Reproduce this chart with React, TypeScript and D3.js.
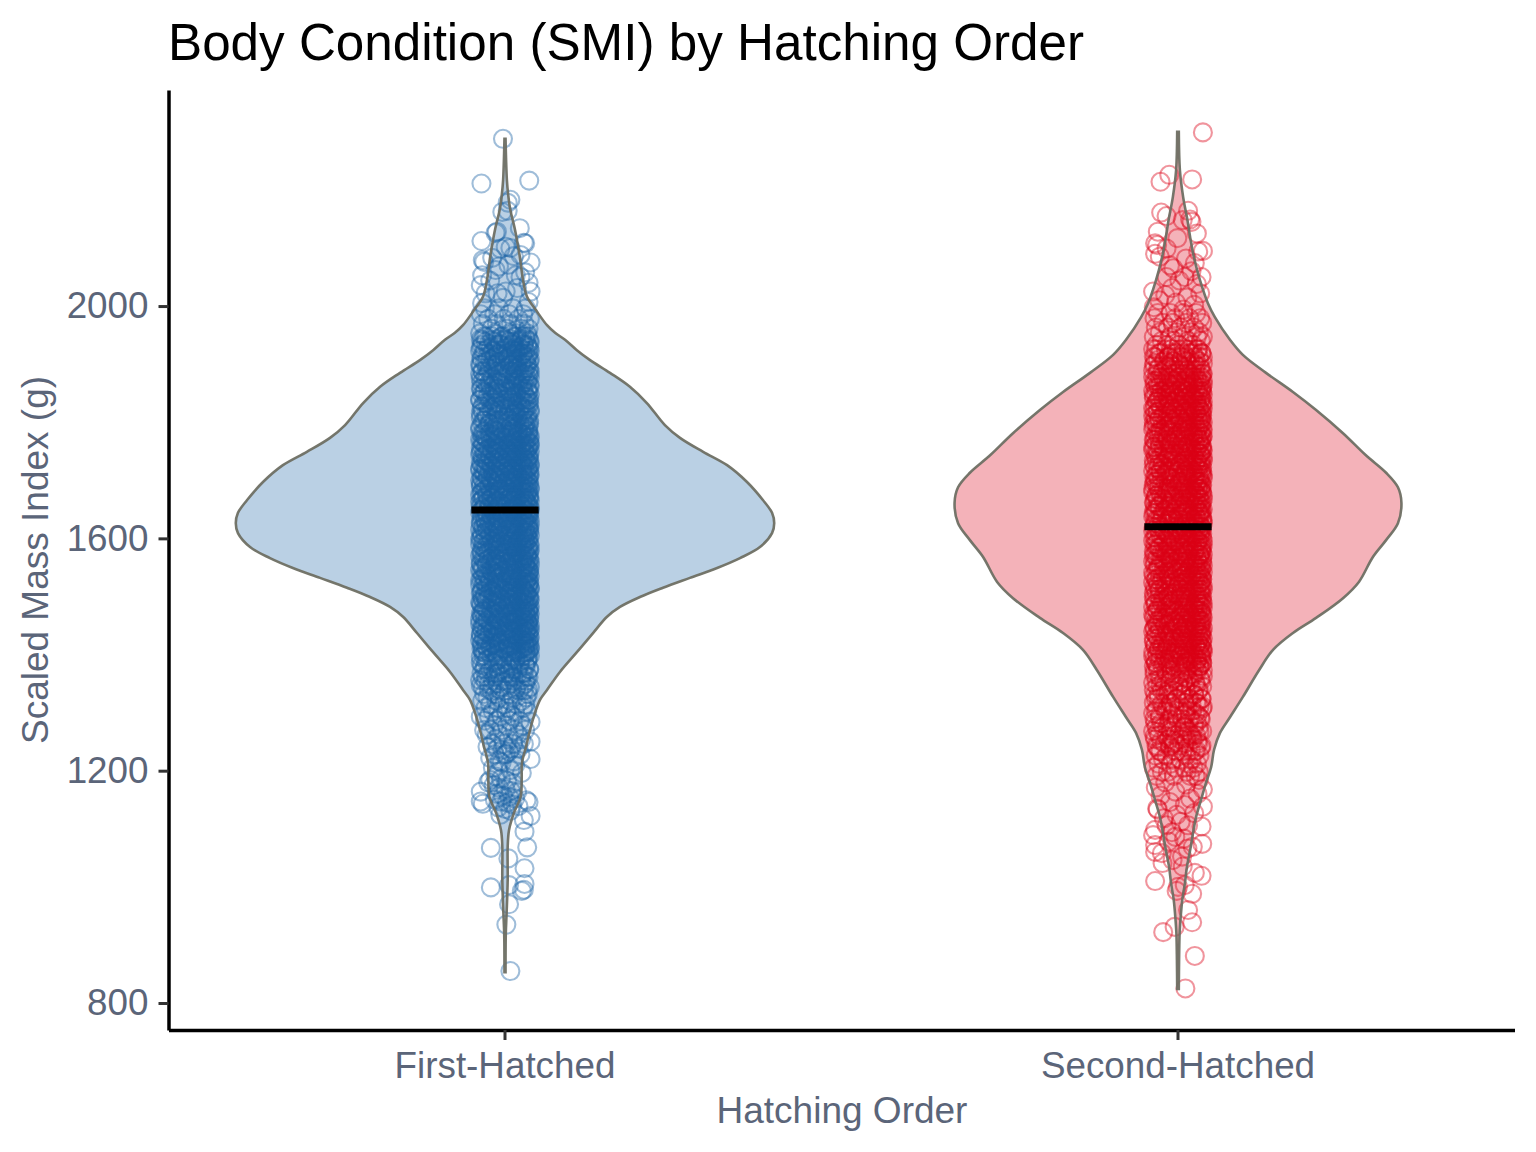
import React from 'react';
import { area, axisBottom, axisLeft, curveCatmullRom, format, scaleBand, scaleLinear, select } from 'd3';

const categories = ['First-Hatched', 'Second-Hatched'];
const yTicks = [800, 1200, 1600, 2000];
const means = [1649, 1620];
const colors = ['#1A62A5', '#DC0016'];

// violin outlines: SMI value and relative density
const firstViolinValues = [2288, 2217, 2191, 2165, 2134, 2088, 2045, 2016, 1993, 1967, 1954, 1942, 1924, 1907, 1885, 1861, 1833, 1795, 1773, 1749, 1726, 1697, 1666, 1644, 1626, 1609, 1585, 1566, 1549, 1532, 1515, 1499, 1482, 1465, 1437, 1404, 1370, 1339, 1322, 1299, 1270, 1241, 1213, 1184, 1155, 1127, 1098, 1069, 1012, 955, 920, 853];
const firstViolinDensity = [0.002, 0.007, 0.012, 0.02, 0.036, 0.054, 0.067, 0.082, 0.115, 0.156, 0.186, 0.223, 0.267, 0.316, 0.39, 0.464, 0.527, 0.594, 0.65, 0.736, 0.825, 0.899, 0.958, 0.992, 1, 0.992, 0.947, 0.873, 0.788, 0.687, 0.587, 0.501, 0.427, 0.379, 0.327, 0.267, 0.204, 0.156, 0.13, 0.111, 0.093, 0.078, 0.063, 0.062, 0.058, 0.033, 0.015, 0.01, 0.01, 0.006, 0.003, 0.002];
const secondViolinValues = [2300, 2234, 2188, 2148, 2119, 2091, 2062, 2028, 2005, 1981, 1942, 1916, 1885, 1852, 1821, 1781, 1743, 1713, 1688, 1661, 1626, 1597, 1568, 1525, 1497, 1463, 1437, 1408, 1373, 1327, 1292, 1265, 1236, 1206, 1179, 1149, 1120, 1093, 1063, 1034, 1007, 978, 948, 920, 874, 824];
const secondViolinDensity = [0.003, 0.007, 0.019, 0.035, 0.045, 0.056, 0.071, 0.093, 0.111, 0.137, 0.193, 0.241, 0.327, 0.427, 0.513, 0.613, 0.698, 0.773, 0.817, 0.83, 0.817, 0.773, 0.724, 0.672, 0.613, 0.513, 0.427, 0.353, 0.301, 0.241, 0.193, 0.156, 0.134, 0.123, 0.104, 0.085, 0.067, 0.056, 0.045, 0.033, 0.026, 0.016, 0.01, 0.006, 0.004, 0.003];

// single birds in the tails: [SMI, jitter in thousandths of the band]
const firstTailPoints = [
  [2288, -3], [2211, -35], [2216, 36], [2183, 8], [2178, 4], [2162, -4], [2164, 4], [2134, 22], [2128, -12], [2126, -14],
  [2112, -35], [2109, 28], [2108, 30], [2079, -33], [2076, -31], [2075, 38], [2088, 23], [2100, 8], [2099, -7], [2053, 16],
  [2068, -9], [2053, -34], [2036, -36], [2040, 35], [2025, 38], [2025, 1], [2022, -11], [2005, -34], [2007, 35], [2022, -29],
  [2050, 23], [2086, 13], [2083, -19], [2102, 1], [2062, -14], [2071, 5], [2044, -22], [2058, 30], [2031, 18], [2014, -3],
  [855, 8], [935, 2], [970, 6], [999, -21], [1003, 6], [1005, 29], [993, 25], [995, 28], [1032, 29], [1049, 5],
  [1067, -21], [1068, 33], [1095, 29], [1122, 38], [1124, -7], [1115, 28], [1147, -36], [1143, -33], [1164, -36], [1149, 32],
  [1146, 35], [1184, -22], [1180, -25], [1220, 38], [1250, 38], [1284, 38], [1293, -36], [1270, -31], [1241, -26], [1222, -22],
  [1196, 25], [1233, 6], [1236, -4], [1229, 2], [1190, -14], [1186, -6], [1183, 3], [1178, 12], [1175, -17], [1171, -9],
  [1168, 1], [1165, 9], [1163, 18], [1160, -12], [1157, -3], [1155, 6], [1152, 15], [1150, -15], [1147, -6], [1145, 3],
  [1142, 11], [1139, 20], [1137, -10], [1134, 0], [1131, 8], [1198, -10], [1201, 8], [1205, -18], [1209, 15], [1214, -5],
];
const firstDenseRows = [
  [1996, -30, -9, 12, 31], [1986, -36, -16, 6, 27], [1978, -25, -2, 20, 37], [1969, -33, -12, 9, 29], [1961, -20, 3, 24, 35],
  [1953, -37, -15, 7, 18, 33], [1947, -28, -6, 14, 30], [1941, -34, -19, 2, 23, 36], [1935, -24, -8, 11, 28], [1929, -36, -13, 5, 21, 34],
  [1923, -30, -3, 16, 37], [1917, -21, -10, 9, 26], [1911, -35, -17, 4, 19, 32], [1905, -27, -5, 13, 36], [1899, -37, -14, 7, 24],
  [1893, -23, -1, 18, 31], [1887, -33, -11, 10, 28, 37], [1881, -26, -7, 15, 35], [1875, -36, -18, 3, 22], [1869, -29, -9, 12, 33],
  [1863, -22, -2, 20, 37], [1857, -35, -15, 6, 27], [1851, -31, -12, 8, 17, 34], [1845, -25, -4, 14, 30], [1839, -37, -19, 1, 23, 36],
  [1833, -28, -8, 11, 32], [1827, -34, -16, 5, 25], [1821, -20, -6, 16, 37, 29], [1815, -36, -13, 9, 21], [1809, -27, -1, 18, 33],
  [1803, -32, -10, 4, 26, 36], [1797, -23, -17, 13, 30], [1791, -37, -5, 7, 28], [1785, -29, -14, 19, 35],
  [1780, -35, -23, -11, 0, 13, 25, 35], [1775, -30, -18, -4, 8, 19, 30, 37], [1770, -37, -26, -14, -1, 11, 22, 33], [1765, -33, -21, -7, 5, 16, 28, 36],
  [1760, -28, -16, -3, 9, 24, 31, 37], [1755, -36, -24, -12, 2, 14, 26, 34], [1750, -31, -19, -8, 6, 18, 29, 37], [1745, -37, -27, -15, -2, 10, 21, 32],
  [1740, -34, -22, -9, 3, 15, 27, 35], [1735, -29, -17, -5, 7, 20, 30, 36], [1730, -36, -25, -13, 0, 12, 23, 33], [1725, -32, -20, -6, 4, 17, 28, 37],
  [1720, -37, -28, -16, -3, 9, 25, 34], [1715, -33, -23, -10, 1, 13, 26, 36], [1710, -30, -18, -7, 6, 19, 31, 37], [1705, -35, -26, -14, -1, 11, 22, 35],
  [1700, -37, -21, -11, 3, 16, 27, 33], [1695, -31, -19, -4, 8, 14, 29, 36], [1690, -36, -24, -12, 0, 18, 24, 34], [1685, -28, -15, -8, 5, 20, 30, 37],
  [1680, -34, -22, -9, 2, 12, 26, 35], [1675, -37, -27, -17, -2, 10, 23, 32], [1670, -32, -20, -5, 7, 15, 28, 36], [1665, -35, -25, -13, 1, 17, 31, 37],
  [1660, -30, -16, -6, 4, 21, 27, 34], [1655, -36, -23, -10, -1, 13, 25, 33], [1650, -33, -19, -7, 9, 18, 29, 37], [1645, -37, -28, -14, 0, 11, 22, 35],
  [1640, -31, -21, -3, 6, 16, 30, 36], [1635, -35, -26, -12, 3, 19, 26, 32], [1630, -29, -18, -8, 5, 14, 28, 37], [1625, -36, -24, -15, -2, 10, 23, 34],
  [1620, -33, -20, -5, 7, 20, 31, 35], [1615, -37, -27, -11, 2, 12, 25, 36], [1610, -30, -17, -9, 8, 17, 29, 33], [1605, -34, -22, -6, 0, 15, 27, 37],
  [1600, -36, -25, -13, 4, 21, 30, 35], [1595, -31, -19, -4, 6, 11, 24, 32], [1590, -37, -23, -10, 1, 18, 28, 36], [1585, -33, -16, -7, 9, 13, 26, 34],
  [1580, -28, -21, -12, 3, 19, 31, 37], [1575, -35, -26, -2, 5, 16, 22, 35], [1570, -37, -18, -8, 10, 14, 29, 33], [1565, -32, -24, -14, -1, 20, 27, 36],
  [1560, -30, -20, -5, 7, 12, 25, 37], [1555, -36, -27, -11, 2, 17, 30, 34], [1550, -34, -15, -9, 6, 23, 28, 32], [1545, -37, -22, -3, 8, 15, 26, 36],
  [1540, -29, -19, -13, 0, 18, 31, 35], [1535, -33, -25, -6, 4, 11, 24, 37], [1530, -35, -17, -10, 9, 21, 29, 33], [1525, -31, -23, -4, 3, 14, 27, 36],
  [1520, -37, -26, -12, 1, 19, 30, 34], [1515, -28, -16, -7, 5, 16, 25, 37], [1510, -34, -21, -2, 10, 13, 28, 35], [1505, -36, -24, -15, 6, 22, 31, 32],
  [1500, -30, -18, -8, 2, 17, 26, 36], [1495, -33, -27, -5, 7, 12, 29, 37], [1490, -37, -20, -11, 4, 20, 24, 34], [1485, -35, -14, -3, 8, 15, 30, 33],
  [1480, -29, -22, -9, 0, 18, 27, 36], [1475, -32, -25, -6, 11, 23, 31, 35], [1470, -36, -17, -13, 3, 14, 28, 37], [1465, -34, -19, -1, 5, 21, 25, 32],
  [1460, -37, -26, -10, 9, 16, 29, 36], [1455, -30, -23, -4, 6, 13, 26, 34], [1450, -33, -15, -8, 2, 19, 30, 37], [1445, -35, -21, -12, 7, 22, 27, 33],
  [1440, -28, -18, -2, 10, 17, 31, 36], [1435, -36, -24, -7, 1, 12, 24, 35], [1430, -31, -16, -11, 4, 20, 28, 37], [1425, -37, -27, -5, 8, 15, 25, 32],
  [1420, -34, -20, -9, 3, 18, 29, 36], [1415, -29, -22, -14, 6, 11, 30, 34], [1410, -35, -19, -3, 0, 23, 26, 37], [1405, -33, -25, -8, 9, 16, 31, 35],
  [1398, -32, -12, 7, 29, 37], [1392, -26, -4, 16, 34], [1386, -36, -17, 1, 22], [1380, -30, -9, 11, 31], [1374, -22, -2, 19, 36],
  [1368, -35, -14, 6, 26], [1362, -28, -7, 13, 33], [1356, -37, -18, 3, 24], [1350, -24, -11, 9, 30], [1344, -33, -5, 17, 37],
  [1338, -20, 0, 21, 28], [1332, -31, -15, 5, 34], [1326, -26, -8, 12, 32], [1320, -34, -13, 8, 25], [1314, -22, -1, 18, 30],
  [1308, -29, -10, 4, 27], [1302, -18, 2, 15, 33], [1294, -24, -6, 11], [1286, -30, -12, 7, 22], [1278, -16, 3, 26], [1270, -22, -4, 14, 30],
  [1262, -27, -9, 19], [1254, -14, 5, 24], [1246, -19, -2, 12, 28], [1238, -11, 9, 20], [1228, -15, 0, 23], [1216, -8, 13],
];
// more birds through the solid part of the column, too many to tell apart
const firstCoreRows = [
  [1948, -31, -20, -4, 17, 26, 34], [1943, -36, -11, -1, 8, 25, 31], [1938, -29, -17, 6, 13, 22, 37], [1933, -34, -14, -7, 10, 28, 33], [1928, -25, -21, 1, 15, 24, 36],
  [1923, -37, -18, -6, 12, 20, 30], [1918, -32, -9, 3, 16, 27, 35], [1913, -26, -15, -2, 7, 23, 34], [1908, -35, -22, 0, 11, 29, 37], [1903, -30, -12, 5, 19, 25, 32],
  [1898, -36, -19, -8, 9, 17, 33], [1893, -27, -16, 2, 14, 28, 36], [1888, -34, -24, -3, 6, 21, 35], [1883, -37, -10, 4, 18, 26, 31], [1878, -29, -20, -5, 13, 24, 37],
  [1873, -32, -13, 8, 16, 30, 34], [1868, -35, -23, -7, 1, 19, 27], [1863, -26, -17, 10, 15, 25, 36], [1858, -36, -11, -1, 12, 22, 33], [1853, -30, -21, 3, 7, 28, 35],
  [1848, -34, -18, -9, 17, 24, 37], [1843, -27, -14, 5, 11, 20, 32], [1838, -37, -22, -4, 9, 26, 34], [1833, -31, -15, 2, 18, 29, 36], [1828, -25, -19, -6, 13, 23, 35],
  [1823, -35, -12, 0, 8, 21, 31], [1818, -33, -24, 6, 16, 27, 37], [1813, -28, -10, -2, 14, 25, 34], [1808, -36, -20, 4, 11, 19, 30], [1803, -30, -16, -7, 7, 28, 33],
  [1798, -34, -23, 1, 15, 22, 36], [1793, -26, -13, 9, 18, 31, 35], [1788, -37, -17, -5, 12, 24, 29], [1783, -32, -21, 3, 10, 20, 34],
  [1778, -33, -15, -8, 6, 27, 32], [1773, -28, -22, 2, 16, 24, 36], [1768, -35, -12, -3, 14, 20, 31], [1763, -31, -18, 7, 11, 26, 37], [1758, -34, -9, 0, 18, 29, 35],
  [1753, -26, -20, -6, 4, 23, 33], [1748, -36, -14, 10, 15, 25, 30], [1743, -30, -23, -1, 8, 19, 36], [1738, -33, -11, 5, 13, 28, 34], [1733, -27, -17, -7, 17, 24, 32],
  [1728, -35, -21, 2, 9, 26, 37], [1723, -29, -13, -4, 12, 21, 35], [1718, -37, -19, 6, 16, 30, 33], [1713, -31, -8, 0, 11, 23, 27], [1708, -26, -16, 3, 18, 28, 36],
  [1703, -34, -22, -9, 7, 14, 31], [1698, -28, -12, 5, 20, 25, 35], [1693, -36, -17, -2, 10, 22, 32], [1688, -32, -23, 1, 13, 27, 37], [1683, -30, -10, -6, 16, 24, 34],
  [1678, -35, -19, 4, 8, 29, 33], [1673, -26, -14, -3, 17, 21, 36], [1668, -33, -21, 6, 12, 30, 35], [1663, -37, -11, -7, 9, 26, 31], [1658, -29, -18, 2, 15, 23, 34],
  [1653, -31, -24, -1, 11, 19, 37], [1648, -35, -13, 7, 14, 28, 32], [1643, -27, -16, -5, 5, 25, 36], [1638, -34, -20, 3, 18, 22, 33], [1633, -30, -9, 0, 10, 29, 35],
  [1628, -36, -22, -4, 16, 24, 31], [1623, -28, -12, 8, 13, 27, 37], [1618, -32, -17, -8, 4, 21, 34], [1613, -26, -23, 1, 15, 30, 36], [1608, -35, -10, 6, 19, 26, 32],
  [1603, -29, -15, -3, 9, 23, 33], [1598, -37, -21, 2, 12, 28, 35], [1593, -33, -14, -6, 17, 20, 30], [1588, -27, -18, 5, 7, 25, 37], [1583, -31, -11, -1, 14, 22, 34],
  [1578, -35, -24, 3, 16, 29, 36], [1573, -30, -8, 10, 18, 26, 32], [1568, -34, -19, -5, 6, 24, 33], [1563, -26, -13, 0, 11, 27, 35], [1558, -36, -22, 4, 15, 21, 31],
  [1553, -28, -16, -7, 8, 30, 37], [1548, -32, -10, 2, 13, 25, 34], [1543, -35, -20, -2, 19, 23, 36], [1538, -27, -17, 7, 12, 28, 33], [1533, -31, -12, -4, 16, 26, 35],
  [1528, -37, -23, 1, 9, 20, 32], [1523, -29, -14, 5, 18, 31, 36], [1518, -33, -21, -8, 10, 24, 34], [1513, -26, -9, 3, 14, 27, 37], [1508, -35, -18, -1, 6, 22, 30],
  [1503, -30, -11, 8, 17, 29, 33], [1498, -34, -24, -6, 12, 25, 35], [1493, -28, -15, 0, 19, 21, 36], [1488, -36, -19, 4, 11, 28, 31], [1483, -32, -13, -3, 7, 23, 37],
  [1478, -27, -20, 2, 16, 26, 34], [1473, -33, -8, 9, 13, 30, 35], [1468, -35, -22, -5, 5, 24, 32], [1463, -30, -16, 1, 18, 27, 36], [1458, -26, -12, -7, 10, 20, 33],
  [1453, -37, -21, 6, 14, 29, 34], [1448, -31, -10, -2, 17, 25, 35], [1443, -34, -18, 3, 8, 22, 37], [1438, -28, -23, 0, 12, 31, 33], [1433, -36, -14, -4, 15, 26, 30],
  [1428, -32, -19, 7, 11, 23, 36], [1423, -29, -9, -6, 19, 28, 34], [1418, -35, -16, 2, 13, 24, 32], [1413, -27, -22, 5, 9, 30, 37], [1408, -33, -11, -1, 16, 21, 35],
  [1403, -30, -17, 4, 18, 27, 31], [1396, -36, -20, -3, 10, 25, 34], [1389, -28, -13, 8, 15, 33], [1382, -34, -7, 2, 22, 30], [1375, -31, -18, 6, 12, 36],
  [1368, -25, -10, 0, 19, 28], [1361, -33, -15, 9, 24, 35], [1354, -29, -4, 13, 31], [1347, -36, -19, 5, 27], [1340, -24, -8, 16, 34],
];

const secondTailPoints = [
  [2299, 37], [2226, -13], [2214, -26], [2218, 21], [2164, 15], [2161, -25], [2155, -17], [2148, 7], [2149, 18], [2145, 20],
  [2128, -30], [2125, 28], [2108, -34], [2095, 37], [2094, 30], [2090, -34], [2099, -17], [2117, -1], [2065, -7], [2050, 35],
  [2050, 10], [2074, 25], [2025, -37], [2022, 33], [2050, -17], [2019, -19], [2105, -31], [2085, -27], [2082, 12], [2070, -12],
  [2060, 20], [2044, 2], [2038, 28], [2031, -9], [2015, 14], [2010, -28], [2006, -3], [2002, 24], [1998, -36], [1994, 8],
  [825, 11], [881, 25], [922, -22], [931, -5], [939, 21], [960, 15], [993, -2], [988, 21], [1010, -34], [1019, 35],
  [1024, 25], [1003, 10], [1000, 0], [1035, 7], [1041, -23], [1060, -34], [1058, -24], [1072, -34], [1069, 22], [1074, 36],
  [1089, -37], [1098, -34], [1104, 35], [1086, -4], [1106, -17], [1135, -31], [1133, -30], [1138, 37], [1168, 37], [1124, -2],
  [1106, 15], [1052, 6], [1046, -8], [1066, 14], [1078, -14], [1083, 9], [1094, -9], [1112, 4], [1118, -21], [1127, 24],
  [1141, 10], [1146, -12], [1152, 18], [1157, -26], [1160, 29], [1164, -4], [1171, -33], [1176, 12], [1180, -19], [1184, 31],
];
const secondDenseRows = [
  [1988, -30, -11, 8, 27], [1979, -35, -4, 17, 33], [1971, -22, -8, 12, 36], [1963, -33, -15, 4, 24], [1955, -27, -2, 19, 31],
  [1947, -36, -12, 9, 28, 37], [1940, -24, -6, 15, 34], [1933, -32, -17, 1, 22], [1926, -37, -10, 11, 30], [1919, -28, -3, 18, 35],
  [1912, -34, -14, 6, 25, 37], [1905, -21, -7, 13, 32], [1898, -36, -18, 3, 27], [1891, -30, -9, 10, 21, 34], [1884, -25, -1, 16, 37],
  [1878, -37, -23, -12, 0, 12, 24, 35], [1872, -32, -18, -6, 7, 19, 29, 37], [1866, -35, -26, -14, -2, 10, 22, 33], [1860, -29, -20, -8, 4, 16, 31, 36],
  [1854, -37, -24, -11, 1, 13, 26, 34], [1848, -33, -17, -5, 8, 20, 30, 37], [1842, -36, -27, -15, -3, 9, 23, 35], [1836, -31, -21, -9, 5, 17, 28, 33],
  [1830, -34, -19, -13, 2, 14, 25, 36], [1824, -37, -25, -7, 6, 21, 31, 37], [1818, -30, -16, -4, 11, 18, 27, 34], [1812, -35, -22, -10, 0, 15, 29, 36],
  [1806, -33, -28, -12, 3, 12, 24, 35], [1800, -36, -18, -6, 9, 20, 32, 37], [1794, -31, -23, -14, -1, 16, 26, 33], [1788, -37, -20, -8, 7, 13, 30, 36],
  [1782, -29, -26, -11, 4, 19, 22, 34], [1776, -34, -17, -3, 10, 23, 28, 37], [1770, -36, -24, -15, 1, 14, 31, 35], [1764, -32, -19, -9, 6, 18, 25, 33],
  [1758, -35, -27, -5, 8, 11, 29, 36], [1752, -37, -21, -12, 2, 21, 26, 37], [1746, -30, -16, -7, 5, 15, 32, 34], [1740, -33, -25, -13, -2, 17, 24, 35],
  [1734, -36, -18, -10, 9, 12, 28, 37], [1728, -28, -23, -4, 3, 20, 30, 33], [1722, -34, -20, -8, 7, 16, 27, 36], [1716, -37, -26, -14, 0, 13, 22, 34],
  [1710, -31, -17, -6, 10, 19, 31, 35], [1704, -35, -24, -11, 4, 14, 25, 37], [1698, -33, -19, -3, 6, 23, 29, 32], [1692, -36, -28, -9, 1, 11, 26, 36],
  [1686, -29, -21, -15, 8, 17, 30, 34], [1680, -37, -16, -7, 2, 20, 24, 35], [1674, -32, -25, -12, 5, 15, 28, 37], [1668, -34, -22, -5, 9, 18, 31, 33],
  [1662, -36, -18, -10, 3, 12, 27, 36], [1656, -30, -27, -13, -1, 21, 25, 34], [1650, -35, -20, -4, 7, 16, 29, 37], [1644, -33, -23, -8, 10, 14, 32, 35],
  [1638, -37, -17, -11, 0, 19, 26, 33], [1632, -31, -24, -6, 4, 22, 30, 36], [1626, -34, -19, -14, 8, 13, 24, 37], [1620, -36, -26, -2, 6, 17, 28, 34],
  [1614, -28, -21, -9, 1, 11, 31, 35], [1608, -32, -16, -7, 5, 20, 27, 36], [1602, -35, -25, -12, 9, 15, 23, 33], [1596, -37, -18, -3, 2, 18, 29, 37],
  [1590, -33, -22, -10, 7, 12, 26, 34], [1584, -30, -27, -15, 3, 21, 30, 36], [1578, -36, -20, -5, 10, 16, 25, 35], [1572, -34, -17, -8, 0, 14, 32, 37],
  [1566, -31, -24, -13, 6, 19, 28, 33], [1560, -37, -19, -4, 4, 11, 24, 36], [1554, -35, -26, -11, 8, 22, 27, 34], [1548, -29, -21, -7, 1, 17, 31, 35],
  [1542, -33, -16, -2, 5, 13, 29, 37], [1536, -36, -23, -14, 9, 20, 26, 33], [1530, -32, -18, -9, 3, 15, 30, 36], [1524, -37, -25, -6, 7, 12, 23, 34],
  [1518, -30, -20, -12, 0, 18, 28, 35], [1512, -34, -27, -3, 10, 21, 32, 37], [1506, -36, -17, -8, 4, 16, 25, 33], [1500, -28, -22, -15, 6, 14, 29, 36],
  [1494, -35, -19, -5, 2, 11, 27, 34], [1488, -33, -24, -10, 8, 19, 31, 37], [1482, -37, -16, -7, 5, 23, 26, 35], [1476, -31, -26, -13, 1, 13, 30, 33],
  [1470, -34, -21, -4, 9, 17, 24, 36], [1464, -36, -18, -11, 3, 20, 28, 37], [1458, -29, -23, -6, 7, 15, 32, 34], [1452, -32, -20, -14, 0, 12, 25, 35],
  [1446, -35, -27, -2, 10, 18, 29, 33], [1440, -37, -17, -9, 4, 22, 27, 36], [1434, -33, -25, -12, 6, 16, 31, 34], [1428, -30, -19, -5, 2, 11, 23, 37],
  [1422, -36, -22, -8, 8, 14, 30, 35], [1416, -34, -16, -15, 5, 21, 26, 33], [1410, -28, -24, -3, 9, 19, 28, 36], [1404, -37, -20, -10, 1, 13, 32, 37],
  [1398, -31, -26, -7, 3, 17, 24, 34], [1392, -35, -18, -13, 7, 20, 29, 35], [1386, -33, -21, -4, 10, 12, 27, 36], [1380, -36, -23, -11, 0, 15, 31, 33],
  [1373, -30, -9, 11, 28, 37], [1366, -35, -17, 3, 22], [1359, -26, -5, 14, 33], [1352, -37, -12, 8, 26], [1345, -31, -20, 1, 19, 36],
  [1338, -24, -7, 12, 30], [1331, -34, -15, 5, 24], [1324, -29, -2, 17, 35], [1317, -36, -11, 9, 27], [1310, -22, -6, 14, 32, 37],
  [1303, -33, -18, 2, 21], [1296, -27, -9, 11, 29], [1289, -35, -13, 6, 34], [1282, -25, -3, 16, 24], [1275, -32, -16, 8, 31],
  [1268, -37, -10, 13, 36], [1261, -28, -5, 19, 27], [1254, -34, -14, 3, 22], [1247, -20, -7, 10, 30], [1240, -31, -12, 15, 34],
  [1233, -26, -2, 7, 25], [1226, -33, -17, 12, 32], [1219, -22, -8, 4, 20], [1212, -29, -11, 16, 28], [1205, -36, -4, 9, 23],
  [1198, -24, -15, 13, 31], [1191, -32, -6, 18, 26],
];
const secondCoreRows = [
  [1925, -33, -18, 2, 16, 29], [1919, -26, -9, 8, 22, 35], [1913, -36, -14, -3, 12, 31], [1907, -30, -20, 5, 18, 27], [1901, -35, -11, 1, 24, 37],
  [1895, -28, -16, -6, 10, 33], [1889, -37, -22, 4, 14, 26], [1883, -31, -8, 7, 20, 36], [1877, -27, -15, -1, 17, 28, 34], [1871, -35, -21, 3, 11, 25, 32],
  [1865, -30, -10, -4, 15, 23, 37], [1859, -33, -17, 6, 13, 27, 35], [1853, -26, -19, -7, 9, 30, 36], [1847, -36, -12, 2, 18, 24, 33], [1841, -29, -23, 0, 12, 21, 34],
  [1835, -32, -13, -5, 7, 27, 37], [1829, -27, -16, 4, 19, 29, 35], [1823, -35, -9, -2, 10, 24, 32], [1817, -31, -20, 8, 14, 26, 36], [1811, -37, -15, 1, 17, 22, 33],
  [1805, -28, -24, -6, 5, 30, 34], [1799, -33, -11, 3, 13, 25, 35], [1793, -36, -18, -8, 9, 21, 31], [1787, -26, -14, 6, 16, 28, 37], [1781, -32, -21, -1, 11, 27, 33],
  [1775, -29, -7, 2, 18, 23, 36], [1769, -35, -16, -3, 8, 31, 34], [1763, -27, -12, 5, 15, 26, 32], [1757, -37, -22, 0, 13, 20, 35], [1751, -31, -10, 7, 17, 28, 36],
  [1745, -34, -19, -5, 3, 24, 33], [1739, -28, -15, 9, 12, 30, 37], [1733, -32, -8, -2, 21, 27, 34], [1727, -36, -23, 4, 14, 25, 35], [1721, -30, -13, 1, 19, 29, 31],
  [1715, -26, -17, -7, 10, 22, 36], [1709, -33, -20, 6, 11, 26, 37], [1703, -29, -9, -4, 16, 24, 32], [1697, -35, -14, 2, 8, 28, 34], [1691, -31, -24, 5, 18, 21, 35],
  [1685, -37, -11, -1, 13, 30, 33], [1679, -27, -18, 7, 15, 25, 36], [1673, -33, -6, 3, 20, 27, 31], [1667, -30, -21, -8, 10, 23, 37], [1661, -35, -12, 0, 17, 29, 34],
  [1655, -28, -16, 4, 9, 26, 32], [1649, -32, -19, -3, 14, 22, 35], [1643, -36, -10, 6, 12, 31, 33], [1637, -26, -23, 1, 18, 27, 36], [1631, -34, -13, -6, 8, 24, 37],
  [1625, -29, -17, 3, 16, 28, 32], [1619, -31, -7, 11, 20, 25, 35], [1613, -37, -20, -2, 5, 30, 34], [1607, -27, -14, 7, 13, 23, 33], [1601, -33, -22, 0, 19, 26, 36],
  [1595, -30, -9, -5, 15, 29, 31], [1589, -35, -16, 2, 10, 21, 37], [1583, -28, -12, 8, 17, 27, 34], [1577, -32, -24, -3, 4, 24, 35], [1571, -36, -18, 6, 14, 32, 33],
  [1565, -26, -11, 1, 12, 28, 36], [1559, -34, -21, -7, 9, 22, 30], [1553, -29, -15, 3, 18, 25, 37], [1547, -31, -8, 5, 16, 27, 34], [1541, -37, -19, -1, 11, 23, 32],
  [1535, -27, -13, 7, 20, 29, 35], [1529, -33, -23, -4, 13, 26, 36], [1523, -30, -10, 2, 8, 31, 33], [1517, -35, -17, 0, 15, 24, 37], [1511, -28, -20, 6, 19, 28, 34],
  [1505, -32, -6, -2, 12, 21, 35], [1499, -36, -14, 4, 10, 27, 32], [1493, -26, -22, -8, 17, 30, 36], [1487, -34, -12, 1, 14, 25, 33], [1481, -29, -18, 9, 16, 23, 37],
  [1475, -31, -9, -5, 7, 29, 34], [1469, -37, -15, 3, 18, 26, 35], [1463, -27, -24, 5, 11, 22, 31], [1457, -33, -11, -3, 20, 28, 36], [1451, -30, -19, 0, 13, 27, 33],
  [1445, -35, -7, 8, 15, 24, 37], [1439, -28, -16, 2, 12, 30, 34], [1433, -32, -21, -6, 6, 25, 35], [1427, -36, -10, 4, 19, 21, 32], [1421, -26, -13, -1, 17, 29, 36],
  [1415, -34, -23, 7, 9, 26, 33], [1409, -29, -17, 1, 14, 31, 37], [1403, -31, -8, -4, 18, 23, 34], [1397, -37, -20, 3, 11, 27, 35], [1391, -27, -12, 6, 16, 28],
  [1385, -33, -15, 0, 21, 36], [1379, -30, -5, 9, 25, 32], [1371, -35, -18, 4, 13, 29], [1363, -28, -10, 7, 23, 37], [1355, -32, -21, 2, 17, 34],
  [1347, -26, -6, 11, 27], [1339, -36, -14, 5, 31], [1331, -29, -19, 8, 24], [1323, -33, -3, 15, 35], [1315, -24, -11, 20, 29],
  [1307, -31, -16, 1, 36], [1299, -37, -8, 12, 26], [1291, -27, -2, 18, 33], [1283, -34, -13, 6, 28], [1275, -22, -9, 10, 24],
  [1267, -30, 3, 16, 32], [1259, -35, -17, 7, 21], [1251, -25, -5, 13, 29], [1243, -32, -12, 2, 35], [1235, -28, -7, 19, 27],
];

const toPoints = (rows: number[][]) => rows.flatMap(([v, ...js]) => js.map(j => [v, j]));
const firstPoints = [...firstTailPoints, ...toPoints(firstDenseRows), ...toPoints(firstCoreRows)];
const secondPoints = [...secondTailPoints, ...toPoints(secondDenseRows), ...toPoints(secondCoreRows)];

const groups = [
  { name: categories[0], points: firstPoints, values: firstViolinValues, density: firstViolinDensity },
  { name: categories[1], points: secondPoints, values: secondViolinValues, density: secondViolinDensity },
];

const font = '"Liberation Sans", Arial, sans-serif';
const slate = '#5B6579';

const App: React.FC = () => {
  const xAxisRef = React.useRef<SVGGElement>(null);
  const yAxisRef = React.useRef<SVGGElement>(null);

  const x = scaleBand().domain(categories).range([168.5, 1514.5]);
  const y = scaleLinear().domain([753.5, 2372]).range([1030, 90]);
  const band = x.bandwidth();
  const violinWidth = scaleLinear().domain([0, 1]).range([0, band * 0.4]);

  React.useEffect(() => {
    const styleAxis = (g: any) => {
      g.select('.domain').attr('stroke', '#000').attr('stroke-width', 3.5);
      g.selectAll('.tick line').attr('stroke', '#333').attr('stroke-width', 3);
      g.selectAll('.tick text').attr('fill', slate).style('font-family', font).style('font-size', '36.8px');
    };
    select(xAxisRef.current).call(axisBottom(x).tickSize(10).tickSizeOuter(0).tickPadding(12) as any).call(styleAxis);
    select(yAxisRef.current).call(axisLeft(y).tickValues(yTicks).tickFormat(format('d')).tickSize(10).tickSizeOuter(0).tickPadding(10) as any).call(styleAxis);
  }, []);

  return (
    <svg width={1536} height={1152} style={{ position: 'absolute', left: 0, top: 0 }}>
      {groups.map((g, i) => {
        const cx = x(g.name)! + band / 2;
        const rows = g.values.map((v, k) => ({ v, d: g.density[k] }));
        const shape = area<{ v: number; d: number }>()
          .y(d => y(d.v))
          .x0(d => cx - violinWidth(d.d))
          .x1(d => cx + violinWidth(d.d))
          .curve(curveCatmullRom);
        return (
          <g key={g.name}>
            {g.points.map(([v, j], k) => (
              <circle key={k} cx={cx + (j / 1000) * band} cy={y(v)} r={9} fill="none" stroke={colors[i]} strokeOpacity={0.42} strokeWidth={2.1} />
            ))}
            <path d={shape(rows)!} fill={colors[i]} fillOpacity={0.3} stroke="#6E6F63" strokeOpacity={0.95} strokeWidth={2.6} />
            <line x1={cx - band * 0.05} x2={cx + band * 0.05} y1={y(means[i])} y2={y(means[i])} stroke="#000" strokeWidth={7} />
          </g>
        );
      })}
      <g ref={yAxisRef} transform="translate(168.5,0)" />
      <g ref={xAxisRef} transform="translate(0,1030)" />
      <text x={168} y={60} fontFamily={font} fontSize={51.2} fill="#000">Body Condition (SMI) by Hatching Order</text>
      <text x={842} y={1123} textAnchor="middle" fontFamily={font} fontSize={37} fill={slate}>Hatching Order</text>
      <text transform="translate(48,560) rotate(-90)" textAnchor="middle" fontFamily={font} fontSize={37} fill={slate}>Scaled Mass Index (g)</text>
    </svg>
  );
};

export default App;
